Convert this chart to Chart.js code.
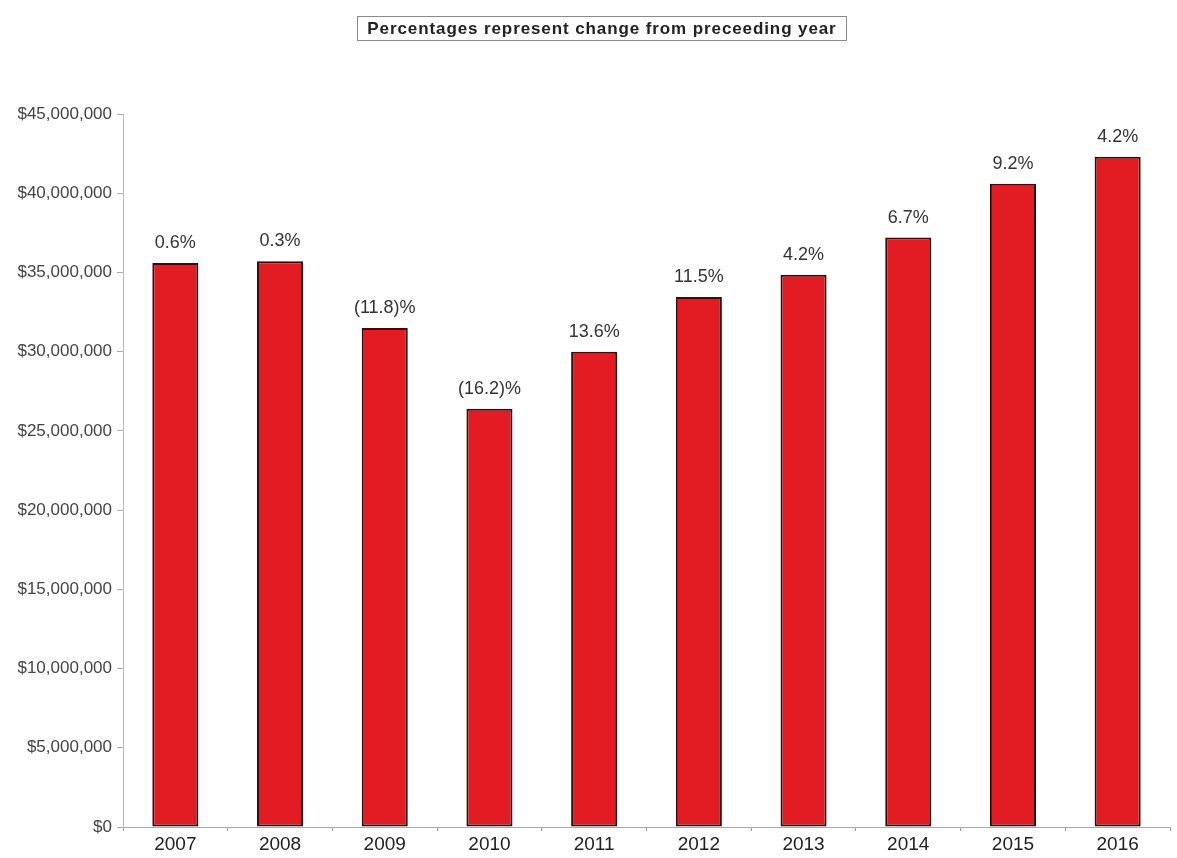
<!DOCTYPE html>
<html>
<head>
<meta charset="utf-8">
<script src="https://cdn.jsdelivr.net/npm/chart.js@4"></script>
<style>
  html, body { margin: 0; padding: 0; background: #fff; }
  #wrap { position: relative; width: 1177px; height: 858px; }
  #note {
    position: absolute; left: 357px; top: 16px; width: 490px; height: 25px;
    border: 1px solid #8a8a8a; box-sizing: border-box;
    font: bold 17px "Liberation Sans", Arial, sans-serif; color: #222;
    text-align: center; line-height: 23px; letter-spacing: 0.9px;
  }
</style>
</head>
<body>
<div id="wrap">
  <div id="note">Percentages represent change from preceeding year</div>
  <canvas id="chart" width="1177" height="858"></canvas>
</div>
<script>
// years on the x axis
const years = ['2007', '2008', '2009', '2010', '2011', '2012', '2013', '2014', '2015', '2016'];
// yearly totals in dollars
const totals = [35600000, 35700000, 31500000, 26400000, 30000000, 33450000, 34850000, 37200000, 40600000, 42300000];
// change from preceding year, printed above each bar
const changes = ['0.6%', '0.3%', '(11.8)%', '(16.2)%', '13.6%', '11.5%', '4.2%', '6.7%', '9.2%', '4.2%'];

const FONT = '"Liberation Sans", Arial, sans-serif';

// draws the percentage text above each bar
const changeLabels = {
  id: 'changeLabels',
  afterDatasetsDraw(chart) {
    const ctx = chart.ctx;
    const meta = chart.getDatasetMeta(0);
    ctx.save();
    ctx.font = '18px ' + FONT;
    ctx.fillStyle = '#333';
    ctx.textAlign = 'center';
    ctx.textBaseline = 'bottom';
    meta.data.forEach((bar, i) => {
      ctx.fillText(changes[i], bar.x, bar.y - 11);
    });
    ctx.restore();
  }
};

new Chart(document.getElementById('chart'), {
  type: 'bar',
  data: {
    labels: years,
    datasets: [{
      data: totals,
      backgroundColor: '#e31c24',
      borderColor: '#2b1010',
      borderWidth: 2,
      borderSkipped: false,
      categoryPercentage: 1,
      barPercentage: 0.44
    }]
  },
  options: {
    responsive: false,
    animation: false,
    layout: { padding: { top: 114, right: 7, left: 0, bottom: 0 } },
    plugins: {
      legend: { display: false },
      tooltip: { enabled: false }
    },
    scales: {
      x: {
        grid: { display: true, drawOnChartArea: false, tickLength: 4, color: '#999' },
        border: { color: '#aaa' },
        ticks: { font: { family: FONT, size: 19 }, color: '#222', padding: 2 },
        afterFit(scale) { scale.height = 31; }
      },
      y: {
        min: 0,
        max: 45000000,
        grid: { display: true, drawOnChartArea: false, tickLength: 6, color: '#aaa' },
        border: { color: '#bbb' },
        ticks: {
          stepSize: 5000000,
          padding: 5,
          font: { family: FONT, size: 17 },
          color: '#444',
          callback: v => '$' + v.toLocaleString('en-US')
        },
        afterFit(scale) { scale.width = 123; }
      }
    }
  },
  plugins: [changeLabels]
});
</script>
</body>
</html>
